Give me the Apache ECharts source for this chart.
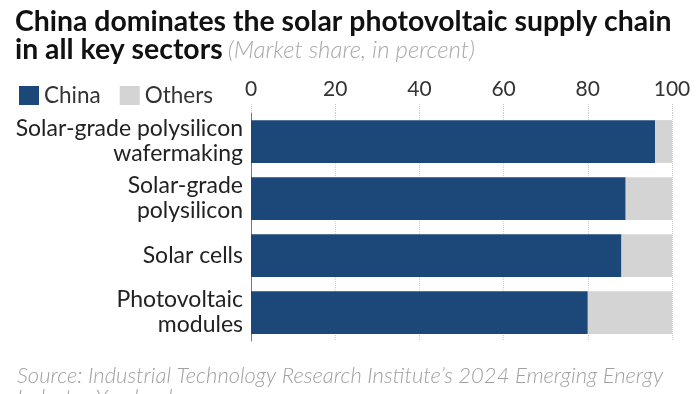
<!DOCTYPE html>
<html><head><meta charset="utf-8">
<script src="https://cdn.jsdelivr.net/npm/echarts@6/dist/echarts.min.js"></script>
<style>html,body{margin:0;padding:0;background:#fff}#c{width:700px;height:394px}</style>
</head><body><div id="c"></div>
<script>
const categories = ['Solar-grade polysilicon\nwafermaking', 'Solar-grade\npolysilicon', 'Solar cells', 'Photovoltaic\nmodules'];
const china = [96, 89, 88, 80];
const others = [4, 11, 12, 20];
const seriesNames = ['China', 'Others'];
const colors = ['#1b4779', '#d4d4d4'];

const chart = echarts.init(document.getElementById('c'), null, {renderer: 'canvas'});
const F = 'Lato, "Open Sans", sans-serif';
chart.setOption({
  animation: false,
  backgroundColor: '#fff',
  title: [{
    left: 10, top: 3,
    text: '{t|China dominates the solar photovoltaic supply chain}\n{t|in all key sectors} {s|(Market share, in percent)}',
    textStyle: {
      rich: {
        t: {fontFamily: F, fontWeight: 'bold', fontSize: 28.4, color: '#111', lineHeight: 28},
        s: {fontFamily: F, fontStyle: 'italic', fontWeight: 300, fontSize: 24, color: '#a8a8a8', lineHeight: 28}
      }
    }
  }, {
    left: 12, top: 360,
    text: 'Source: Industrial Technology Research Institute\u2019s 2024 Emerging Energy\nIndustry Yearbook',
    textStyle: {fontFamily: F, fontStyle: 'italic', fontWeight: 300, fontSize: 22, color: '#a0a0a0', lineHeight: 22}
  }],
  legend: {
    left: 14, top: 79,
    icon: 'rect', itemWidth: 20, itemHeight: 19, itemGap: 19,
    textStyle: {fontFamily: F, fontSize: 22.5, color: '#333'},
    data: seriesNames
  },
  grid: {left: 251, right: 28, top: 113, bottom: 53, containLabel: false},
  xAxis: {
    type: 'value', position: 'top', min: 0, max: 100, interval: 20,
    axisLine: {show: false},
    axisTick: {show: true, length: 10, lineStyle: {type: 'dotted', color: '#c8c8c8'}},
    axisLabel: {fontFamily: F, fontSize: 21, color: '#333', margin: 13},
    splitLine: {show: true, lineStyle: {type: 'dotted', color: '#d0d0d0'}}
  },
  yAxis: {
    type: 'category', inverse: true, data: categories,
    axisLine: {show: true, lineStyle: {color: '#777', width: 1}},
    axisTick: {show: false},
    axisLabel: {fontFamily: F, fontSize: 23, color: '#222', lineHeight: 25, margin: 8, align: 'right'}
  },
  series: [
    {name: seriesNames[0], type: 'bar', stack: 's', data: china, barWidth: '75%', itemStyle: {color: colors[0]}},
    {name: seriesNames[1], type: 'bar', stack: 's', data: others, barWidth: '75%', itemStyle: {color: colors[1]}}
  ]
});
</script></body></html>
